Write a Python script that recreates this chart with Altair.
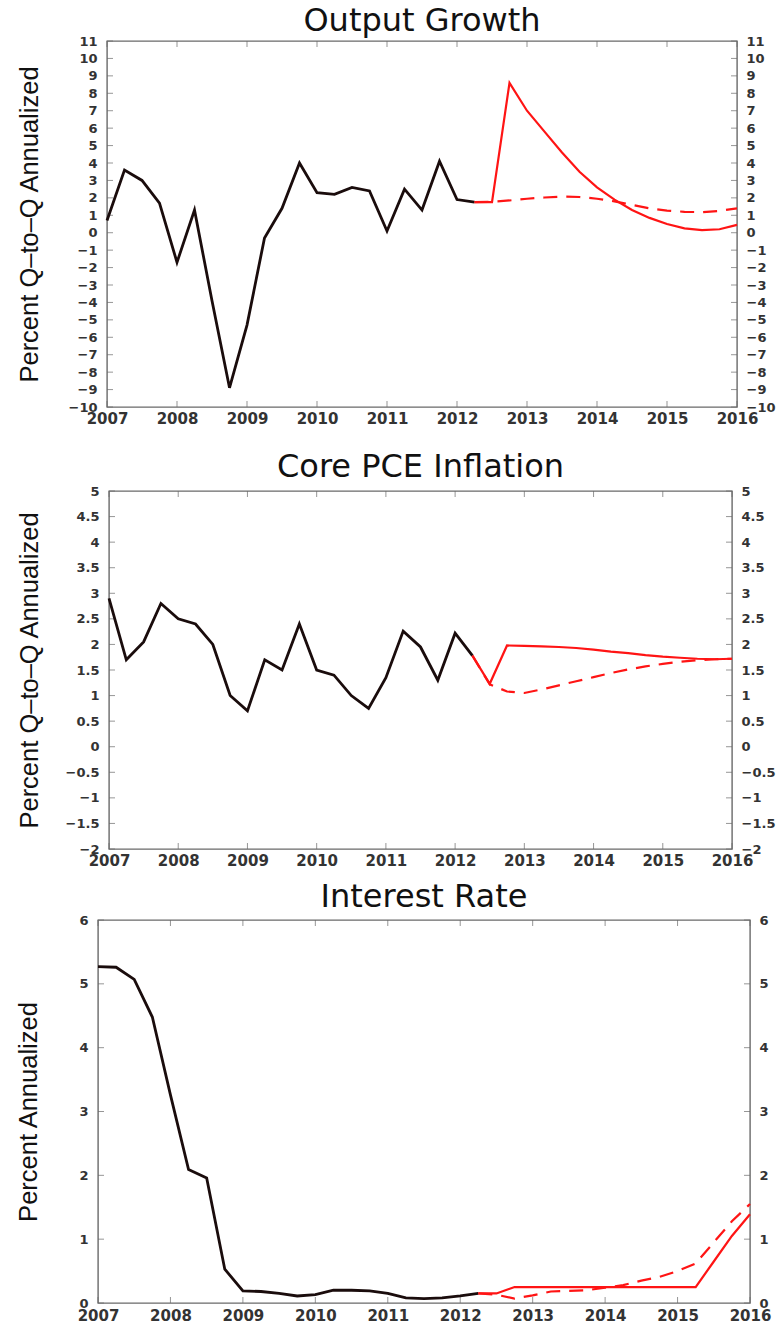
import altair as alt
import pandas as pd

# ---------------- data ----------------
years = list(range(2007, 2017))
quarter_labels = [f"{y}Q{q}" for y in range(2007, 2016) for q in range(1, 5)] + ["2016Q1"]
hist_q = quarter_labels[:22]          # 2007Q1 .. 2012Q2
proj_q = quarter_labels[21:]          # 2012Q2 .. 2016Q1

out_hist = [0.7, 3.6, 3.0, 1.7, -1.7, 1.3, -3.9, -8.9, -5.3, -0.3, 1.4, 4.0,
            2.3, 2.2, 2.6, 2.4, 0.1, 2.5, 1.3, 4.1, 1.9, 1.75]
out_solid = [1.75, 1.75, 8.6, 7.0, 5.8, 4.6, 3.5, 2.6, 1.9, 1.3, 0.85, 0.5,
             0.25, 0.15, 0.2, 0.45]
out_dash = [1.75, 1.78, 1.85, 1.95, 2.02, 2.07, 2.05, 1.95, 1.8, 1.6, 1.4, 1.27,
            1.2, 1.18, 1.25, 1.4]

pce_hist = [2.9, 1.7, 2.05, 2.8, 2.5, 2.4, 2.0, 1.0, 0.7, 1.7, 1.5, 2.4,
            1.5, 1.4, 1.0, 0.75, 1.35, 2.26, 1.95, 1.3, 2.22, 1.78]
pce_solid = [1.78, 1.23, 1.98, 1.97, 1.96, 1.95, 1.93, 1.9, 1.86, 1.83, 1.79, 1.76,
             1.74, 1.72, 1.71, 1.72]
pce_dash = [1.78, 1.22, 1.08, 1.05, 1.12, 1.2, 1.28, 1.36, 1.44, 1.51, 1.57, 1.62,
            1.66, 1.69, 1.71, 1.72]

ir_hist = [5.27, 5.26, 5.07, 4.48, 3.26, 2.09, 1.96, 0.53, 0.19, 0.18, 0.15, 0.11,
           0.13, 0.2, 0.2, 0.19, 0.15, 0.08, 0.07, 0.08, 0.11, 0.15]
ir_solid = [0.15, 0.15, 0.25, 0.25, 0.25, 0.25, 0.25, 0.25, 0.25, 0.25, 0.25, 0.25,
            0.25, 0.65, 1.05, 1.39]
ir_dash = [0.15, 0.13, 0.07, 0.12, 0.18, 0.19, 0.2, 0.24, 0.28, 0.35, 0.41, 0.5,
           0.62, 0.95, 1.28, 1.55]

out_ticks = list(range(-10, 12))
pce_ticks = [-2, -1.5, -1, -0.5, 0, 0.5, 1, 1.5, 2, 2.5, 3, 3.5, 4, 4.5, 5]
ir_ticks = [0, 1, 2, 3, 4, 5, 6]


def qnum(lbl):
    return int(lbl[:4]) + (int(lbl[5]) - 1) / 4.0


BLACK = "#1a0c0c"
RED = "#ff1414"
FRAME = "#6a6a6a"


def panel(title, ytitle, hist, solid, dash, ydom, yvals, yfmt, W, H, tpad, toff, xpad):
    xs = alt.Scale(domain=[2007, 2016], nice=False, zero=False)
    ys = alt.Scale(domain=ydom, nice=False, zero=False)
    xaxis = alt.Axis(values=years, format="d", orient="bottom", labelPadding=xpad, title=None,
                     labelFlush=False, labelOverlap=False, labelFontSize=15)
    yL = alt.Axis(values=yvals, format=yfmt, orient="left", title=ytitle, titlePadding=tpad,
                  labelPadding=10, labelFlush=False, labelOverlap=False)
    yR = alt.Axis(values=yvals, format=yfmt, orient="right", title=None, labelPadding=9,
                  labelFlush=False, labelOverlap=False)
    X = alt.X("t:Q", scale=xs, axis=xaxis)
    Y = alt.Y("v:Q", scale=ys, axis=yL)

    dh = pd.DataFrame({"t": [qnum(q) for q in hist_q], "v": hist})
    ds = pd.DataFrame({"t": [qnum(q) for q in proj_q], "v": solid})
    dd = pd.DataFrame({"t": [qnum(q) for q in proj_q], "v": dash})
    dx = pd.DataFrame({"t": years})
    dy = pd.DataFrame({"v": yvals})

    l_hist = alt.Chart(dh).mark_line(color=BLACK, strokeWidth=2.8).encode(x=X, y=Y)
    l_dash = alt.Chart(dd).mark_line(color=RED, strokeWidth=2.2, strokeDash=[14, 9]).encode(x=X, y=Y)
    l_solid = alt.Chart(ds).mark_line(color=RED, strokeWidth=2.2).encode(x=X, y=Y)
    t_bot = alt.Chart(dx).mark_tick(orient="vertical", size=6, thickness=1, color=FRAME).encode(
        x=X, y=alt.value(H - 3))
    t_top = alt.Chart(dx).mark_tick(orient="vertical", size=6, thickness=1, color=FRAME).encode(
        x=X, y=alt.value(3))
    t_left = alt.Chart(dy).mark_tick(orient="horizontal", size=6, thickness=1, color=FRAME).encode(
        y=Y, x=alt.value(3))
    inner = alt.layer(t_bot, t_top, t_left, l_dash, l_hist, l_solid)
    t_right = alt.Chart(dy).mark_tick(orient="horizontal", size=6, thickness=1, color=FRAME).encode(
        y=alt.Y("v:Q", scale=ys, axis=yR), x=alt.value(W - 3))
    return alt.layer(inner, t_right).resolve_scale(y="independent").properties(
        width=W, height=H,
        title=alt.TitleParams(title, fontSize=32, font="DejaVu Sans", fontWeight="normal",
                              color="#111", anchor="middle", offset=toff))


def spacer():
    # invisible 1-px cell used only to left-align the panels' outer edges
    return alt.Chart(pd.DataFrame({"t": [0]})).mark_point(opacity=0).properties(
        width=1, height=1, view=alt.ViewBackground(stroke="transparent"))


p1 = panel("Output Growth", "Percent Q\u2013to\u2013Q Annualized", out_hist, out_solid, out_dash,
           [-10, 11], out_ticks, "d", 630, 366, 26, -3, 4)
p2 = panel("Core PCE Inflation", "Percent Q\u2013to\u2013Q Annualized", pce_hist, pce_solid, pce_dash,
           [-2, 5], pce_ticks, "~g", 623, 358, 23, 1, 4)
p3 = panel("Interest Rate", "Percent Annualized", ir_hist, ir_solid, ir_dash,
           [0, 6], ir_ticks, "d", 652, 383, 37, 0, 5)

row1 = alt.hconcat(spacer(), p1, spacing=0)
row2 = alt.hconcat(spacer(), p2, spacing=0)
row3 = alt.hconcat(spacer(), p3, spacing=0)
top = alt.vconcat(row1, row2, spacing=23)
chart = alt.vconcat(top, row3, spacing=11).configure_axis(
    labelFont="DejaVu Sans", labelFontWeight="bold", labelFontSize=13, labelColor="#333333",
    titleFont="Liberation Sans", titleFontSize=25.5,
    titleFontWeight="normal", titleColor="#111",
    ticks=False, domain=False, grid=False
).configure_view(stroke=FRAME, strokeWidth=1.4).properties(
    padding={"left": 9, "top": 4, "right": 5, "bottom": 5}, background="white")

chart.save("out.html", embed_options={"renderer": "svg", "actions": False})
